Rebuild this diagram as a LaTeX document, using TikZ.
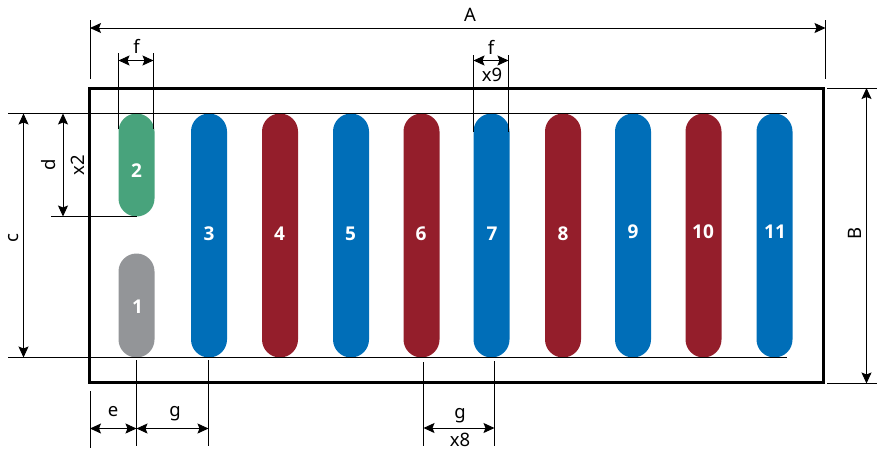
\documentclass[tikz,border=0pt]{standalone}
\usepackage{fontspec}
\setmainfont{Noto Sans}
\newfontfamily\numfont{Open Sans}
\usetikzlibrary{arrows.meta}
\definecolor{pblue}{HTML}{006EB8}
\definecolor{pred}{HTML}{941E2B}
\definecolor{pgreen}{HTML}{48A37C}
\definecolor{pgray}{HTML}{939598}
\tikzset{
  pill/.style={rounded corners=18pt,minimum width=36pt,inner sep=0pt,outer sep=0pt,draw=none},
  num/.style={text=white,font=\numfont\fontsize{19}{19}\selectfont\bfseries,inner sep=0pt},
  lab/.style={text=black,font=\fontsize{18.5}{18.5}\selectfont,inner sep=0pt},
  dimline/.style={line width=1pt,{Stealth[length=11pt,width=10pt,inset=2pt]}-{Stealth[length=11pt,width=10pt,inset=2pt]}},
  extline/.style={line width=0.8pt,black},
  frame/.style={draw=black,line width=3pt,fill=none,minimum width=734pt,minimum height=294.5pt,inner sep=0pt,outer sep=0pt}
}
\begin{document}
\begin{tikzpicture}[x=1pt,y=-1pt]
\useasboundingbox (0,0) rectangle (877,451);
% frame
\node[frame] (box) at (456.5,235.25) {};
% pills
\node[pill,fill=pgray,minimum height=104pt] (p1) at (136.5,305.5) {};
\node[pill,fill=pgreen,minimum height=103pt] (p2) at (136.5,165) {};
\foreach \nm/\cx/\col in {p3/209/pblue,p4/280/pred,p5/351/pblue,p6/421.5/pred,p7/491.5/pblue,p8/563/pred,p9/633/pblue,p10/703.5/pred,p11/774.5/pblue}{
  \node[pill,fill=\col,minimum height=244pt] (\nm) at (\cx,235.5) {};
}
% numbers
\node[num] (n1) at (137.5,307) {1};
\node[num] (n2) at (136.5,170.5) {2};
\node[num] (n3) at (209,234) {3};
\node[num] (n4) at (279.5,234) {4};
\node[num] (n5) at (350.5,234) {5};
\node[num] (n6) at (421,234) {6};
\node[num] (n7) at (492,234) {7};
\node[num] (n8) at (563,234) {8};
\node[num] (n9) at (633,232) {9};
\node[num] (n10) at (703,232) {10};
\node[num] (n11) at (775,232) {11};
% horizontal reference lines
\coordinate (tl) at (8,113.5); \coordinate (tr) at (787,113.5);
\coordinate (bl) at (8,357.5); \coordinate (br) at (787,357.5);
\draw[extline] (tl) -- (tr);
\draw[extline] (bl) -- (br);
% A
\coordinate (a1t) at (90,20); \coordinate (a1b) at (90,79);
\coordinate (a2t) at (825.5,20); \coordinate (a2b) at (825.5,79);
\coordinate (a1) at (90,28); \coordinate (a2) at (825.5,28);
\draw[extline] (a1t) -- (a1b);
\draw[extline] (a2t) -- (a2b);
\draw[dimline] (a1) -- (a2);
\node[lab] (lA) at (470,15) {A};
% f left
\coordinate (f1t) at (118.5,53); \coordinate (f1b) at (118.5,128.5);
\coordinate (f2t) at (153.5,53); \coordinate (f2b) at (153.5,128.5);
\coordinate (f1) at (118.5,60.5); \coordinate (f2) at (153.5,60.5);
\draw[extline] (f1t) -- (f1b);
\draw[extline] (f2t) -- (f2b);
\draw[dimline] (f1) -- (f2);
\node[lab] (lf1) at (136.5,46) {f};
% f right
\coordinate (g1t) at (473.5,55); \coordinate (g1b) at (473.5,131.5);
\coordinate (g2t) at (508.5,55); \coordinate (g2b) at (508.5,131.5);
\coordinate (g1) at (473.5,60.5); \coordinate (g2) at (508.5,60.5);
\draw[extline] (g1t) -- (g1b);
\draw[extline] (g2t) -- (g2b);
\draw[dimline] (g1) -- (g2);
\node[lab] (lf2) at (491,47) {f};
\node[lab] (lx9) at (492,75) {x9};
% c
\coordinate (c1) at (23.5,113.5); \coordinate (c2) at (23.5,357.5);
\draw[dimline] (c1) -- (c2);
\node[lab,rotate=90] (lc) at (14,238) {c};
% d
\coordinate (d1) at (63,113.5); \coordinate (d2) at (63,216.5);
\coordinate (de1) at (51,216.5); \coordinate (de2) at (136.5,216.5);
\draw[extline] (de1) -- (de2);
\draw[dimline] (d1) -- (d2);
\node[lab,rotate=90] (ld) at (49,165) {d};
\node[lab,rotate=90] (lx2) at (78,165) {x2};
% B
\coordinate (b1e) at (827,88); \coordinate (b1f) at (877,88);
\coordinate (b2e) at (827,383.5); \coordinate (b2f) at (877,383.5);
\coordinate (b1) at (866.5,88); \coordinate (b2) at (866.5,383.5);
\draw[extline] (b1e) -- (b1f);
\draw[extline] (b2e) -- (b2f);
\draw[dimline] (b1) -- (b2);
\node[lab,rotate=90] (lB) at (855,233.5) {B};
% e, g
\coordinate (e0t) at (90,391); \coordinate (e0b) at (90,448);
\coordinate (e1t) at (136.5,360); \coordinate (e1b) at (136.5,446);
\coordinate (e2t) at (208.5,360); \coordinate (e2b) at (208.5,446);
\draw[extline] (e0t) -- (e0b);
\draw[extline] (e1t) -- (e1b);
\draw[extline] (e2t) -- (e2b);
\coordinate (e0) at (90,428.5); \coordinate (e1) at (136.5,428.5); \coordinate (e2) at (208.5,428.5);
\draw[dimline] (e0) -- (e1);
\draw[dimline] (e1) -- (e2);
\node[lab] (le) at (113,412) {e};
\node[lab] (lg1) at (175,414) {g};
% g right
\coordinate (h1t) at (423.5,362); \coordinate (h1b) at (423.5,446);
\coordinate (h2t) at (494.5,361); \coordinate (h2b) at (494.5,446);
\draw[extline] (h1t) -- (h1b);
\draw[extline] (h2t) -- (h2b);
\coordinate (h1) at (423.5,428); \coordinate (h2) at (494.5,428);
\draw[dimline] (h1) -- (h2);
\node[lab] (lg2) at (460,416) {g};
\node[lab] (lx8) at (460,440) {x8};
\end{tikzpicture}
\end{document}
